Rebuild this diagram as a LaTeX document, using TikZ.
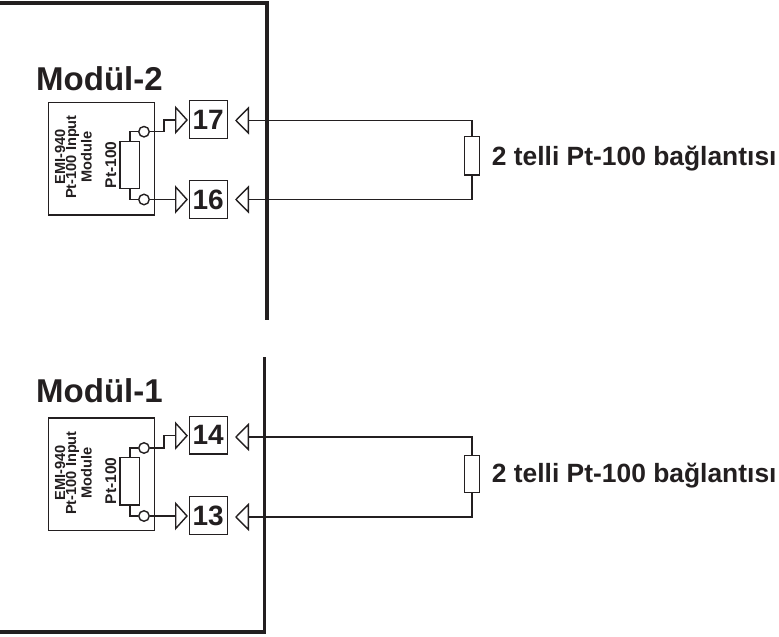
\documentclass[tikz,border=0pt]{standalone}
\usepackage{fontspec}
\setmainfont{Liberation Sans}
\definecolor{ink}{HTML}{231F20}
\newcommand{\fs}[1]{\fontsize{#1}{#1}\selectfont\bfseries}
\tikzset{
  frameline/.style={draw=ink,line width=3.4pt},
  wire/.style={draw=ink,line width=1.4pt},
  modbox/.style={draw=ink,line width=1.4pt,minimum width=105.7pt,minimum height=112.5pt,inner sep=0,anchor=north west},
  res/.style={draw=ink,line width=1.4pt,inner sep=0,fill=white,anchor=center},
  pin/.style={draw=ink,line width=1.4pt,circle,minimum size=10.5pt,inner sep=0,fill=white},
  termbox/.style={draw=ink,line width=1.4pt,minimum width=38pt,minimum height=37.5pt,inner sep=0,text=ink,font=\fs{28}},
  tri/.style={draw=ink,line width=1.4pt,fill=white,line join=miter},
  title/.style={anchor=base west,inner sep=0,text=ink,font=\fs{33}},
  conn/.style={anchor=base west,inner sep=0,text=ink,font=\fs{26.4}},
  modtxt/.style={rotate=90,anchor=base,inner sep=0,text=ink,font=\fs{14.6}},
  restxt/.style={rotate=90,anchor=base,inner sep=0,text=ink,font=\fs{15.5}}
}
\begin{document}
\begin{tikzpicture}[x=1pt,y=-1pt]
\useasboundingbox (0,0) rectangle (779,637);
% frames
\coordinate (f2a) at (0,3); \coordinate (f2b) at (267,3); \coordinate (f2c) at (267,320);
\draw[frameline] (f2a) -- (f2b) -- (f2c);
\coordinate (f1a) at (264.5,357); \coordinate (f1b) at (264.5,632); \coordinate (f1c) at (0,632);
\draw[frameline] (f1a) -- (f1b) -- (f1c);
% titles
\node[title] (t2) at (36,90) {Modül-2};
\node[title] (t1) at (36,402) {Modül-1};
% ---------- module 2
\node[modbox] (m2) at (48,101.7) {};
\node[modtxt] (m2a) at (65,157) {EMI-940};
\node[modtxt] (m2b) at (76,157) {Pt-100 Input};
\node[modtxt] (m2c) at (91.5,157) {Module};
\node[restxt] (m2d) at (116,165) {Pt-100};
\node[res,minimum width=19.5pt,minimum height=46.5pt] (r2) at (129.8,165) {};
\node[pin] (p17) at (144,131.7) {};
\node[pin] (p16) at (144,199.5) {};
\draw[wire] (r2.north) |- (p17.west);
\draw[wire] (r2.south) |- (p16.west);
\node[termbox] (b17) at (208.2,119.5) {17};
\node[termbox] (b16) at (208.2,199.5) {16};
\coordinate (a17b) at (175.7,120); \coordinate (a16b) at (175.7,199.5);
\draw[tri] (a17b) ++(0,-12.5) -- ++(11.3,12.5) -- ++(-11.3,12.5) -- cycle;
\draw[tri] (a16b) ++(0,-12.5) -- ++(11.3,12.5) -- ++(-11.3,12.5) -- cycle;
\draw[wire] (p17.east) -- (164,131.7) -- (164,120) -- (a17b);
\draw[wire] (p16.east) -- (a16b);
\coordinate (c17) at (248.3,120.5); \coordinate (c16) at (248.3,199.5);
\draw[tri] (c17) ++(0,-12.5) -- ++(-12.3,12.5) -- ++(12.3,12.5) -- cycle;
\draw[tri] (c16) ++(0,-12.5) -- ++(-12.3,12.5) -- ++(12.3,12.5) -- cycle;
\node[res,minimum width=14.7pt,minimum height=38.3pt] (e2) at (472,155.8) {};
\draw[wire] (c17) -| (e2.north);
\draw[wire] (c16) -| (e2.south);
\node[conn] (l2) at (491.7,165) {2 telli Pt-100 bağlantısı};
% ---------- module 1
\node[modbox] (m1) at (48,417.3) {};
\node[modtxt] (m1a) at (65,473) {EMI-940};
\node[modtxt] (m1b) at (76,473) {Pt-100 Input};
\node[modtxt] (m1c) at (91.5,473) {Module};
\node[restxt] (m1d) at (116,481) {Pt-100};
\node[res,minimum width=19.5pt,minimum height=47.3pt] (r1) at (129.8,481.3) {};
\node[pin] (p14) at (144,448) {};
\node[pin] (p13) at (144,516) {};
\draw[wire] (r1.north) |- (p14.west);
\draw[wire] (r1.south) |- (p13.west);
\node[termbox] (b14) at (208.2,435.2) {14};
\node[termbox] (b13) at (208.2,515.5) {13};
\coordinate (a14b) at (175.7,435.7); \coordinate (a13b) at (175.7,516);
\draw[tri] (a14b) ++(0,-12.5) -- ++(11.3,12.5) -- ++(-11.3,12.5) -- cycle;
\draw[tri] (a13b) ++(0,-12.5) -- ++(11.3,12.5) -- ++(-11.3,12.5) -- cycle;
\draw[wire] (p14.east) -- (164,448) -- (164,435.7) -- (a14b);
\draw[wire] (p13.east) -- (a13b);
\coordinate (c14) at (248.3,437); \coordinate (c13) at (248.3,517);
\draw[tri] (c14) ++(0,-12.5) -- ++(-12.3,12.5) -- ++(12.3,12.5) -- cycle;
\draw[tri] (c13) ++(0,-12.5) -- ++(-12.3,12.5) -- ++(12.3,12.5) -- cycle;
\node[res,minimum width=14.7pt,minimum height=37pt] (e1) at (472,474) {};
\draw[wire] (c14) -| (e1.north);
\draw[wire] (c13) -| (e1.south);
\node[conn] (l1) at (491.7,482) {2 telli Pt-100 bağlantısı};
\end{tikzpicture}
\end{document}
